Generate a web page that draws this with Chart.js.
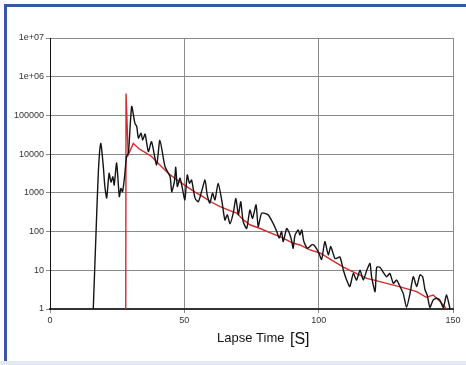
<!DOCTYPE html>
<html>
<head>
<meta charset="utf-8">
<script src="https://cdn.jsdelivr.net/npm/chart.js@4"></script>
<style>
  html, body { margin: 0; padding: 0; background: #fff; }
  #wrap { position: relative; width: 466px; height: 365px; overflow: hidden; }
  #frame { position: absolute; left: 4px; top: 4px; width: 480px; height: 356px;
           border-left: 3px solid #3658a5; border-top: 3px solid #3658a5; }
  #foot { position: absolute; left: 0; top: 361px; width: 466px; height: 4px; background: #e4eaf5; }
  canvas { position: absolute; left: 0; top: 0; }
</style>
</head>
<body>
<div id="wrap">
  <div id="frame"></div>
  <div id="foot"></div>
  <canvas id="chart" width="466" height="365"></canvas>
</div>
<script>
// time axis (seconds) and amplitudes
const blackX = [16.1, 17.1, 18.0, 18.9, 19.8, 20.4, 21.1, 22.0, 22.7, 23.4, 23.9, 24.8, 25.8, 26.4, 27.0, 27.7,
  28.5, 29.2, 30.4, 31.6, 32.3, 32.9, 33.9, 34.5, 35.4, 36.6, 37.8, 39.7, 40.9, 42.8, 44.7, 45.3, 46.3, 46.8,
  47.4, 48.4, 49.4, 50.2, 51.1, 51.9, 52.7, 54.0, 55.2, 56.4, 57.7, 58.5, 59.5, 60.5, 61.4, 62.6, 63.9, 65.1,
  66.0, 67.0, 68.2, 69.2, 70.1, 71.0, 71.9, 73.2, 74.4, 75.4, 76.7, 77.5, 78.8, 81.2, 83.1, 84.4, 85.3, 86.2,
  86.8, 88.1, 89.1, 89.9, 90.5, 91.2, 92.4, 93.0, 93.7, 94.5, 95.8, 97.4, 98.2, 99.9, 101.1, 102.3, 103.6,
  104.5, 106.1, 107.9, 109.2, 110.4, 111.6, 112.9, 114.1, 115.4, 116.6, 117.9, 119.1, 119.7, 121.0, 121.6,
  122.8, 124.0, 125.3, 126.5, 127.8, 129.0, 130.3, 131.5, 132.7, 134.0, 135.2, 136.5, 137.7, 138.7, 139.6,
  140.4, 141.4, 142.6, 143.9, 145.1, 146.4, 147.6, 148.9];
const blackY = [1, 80, 3500, 19000, 5200, 1500, 740, 3200, 1900, 2600, 1600, 5900, 800, 1300, 1070, 2400,
  8600, 10700, 170000, 63000, 51000, 26000, 35000, 23000, 33000, 11600, 21000, 5200, 23000, 4800, 2600, 1070, 1950, 4600,
  1450, 2400, 1170, 660, 2900, 1780, 2140, 720, 590, 1070, 2140, 890, 540, 980, 660, 1780, 660, 200,
  270, 160, 300, 720, 270, 590, 180, 120, 360, 220, 490, 135, 300, 270, 160, 100, 68, 100,
  55, 120, 91, 60, 37, 81, 110, 81, 110, 55, 37, 45, 45, 30, 19, 55, 25,
  41, 20, 22, 10, 5.6, 3.8, 8.3, 5.6, 10, 5.6, 10, 15, 6.8, 2.8, 12,
  12, 9, 6.8, 8.3, 4.6, 5.6, 3.8, 2.5, 1.1, 2.5, 6.8, 3.8, 7.6, 6.8, 3.1,
  2.3, 1.1, 1.7, 1.9, 1.7, 1.1, 2.3, 1];

const redX = [28.2, 28.3, 29.1, 31.0, 33.0, 35.5, 37.8, 41.0, 44.0, 47.5, 50.9, 54.0, 57.0, 60.0, 63.3, 66.5,
  69.5, 72.0, 74.4, 78.2, 82.5, 86.8, 90.0, 93.0, 96.5, 100.5, 105.0, 109.2, 113.0, 117.9, 121.0, 125.3,
  130.0, 136.5, 140.0, 142.6, 145.0, 147.6];
const redY = [1, 370000, 9500, 19000, 14000, 11000, 8700, 5200, 3200, 2100, 1450, 1050, 790, 580, 440, 360,
  300, 200, 150, 120, 90, 68, 52, 45, 34, 28, 18, 12, 9, 6.2, 5.5, 4.6,
  3.8, 2.8, 2.0, 2.3, 1.6, 1];

const xTicks = [0, 50, 100, 150];
const yTicks = [1, 10, 100, 1000, 10000, 100000, 1000000, 10000000];

function toPoints(xs, ys) {
  return xs.map((x, i) => ({ x: x, y: ys[i] }));
}

function yLabel(v) {
  if (v >= 1000000) return "1e+0" + Math.round(Math.log10(v));
  return String(v);
}

const axisTitle = {
  id: "axisTitle",
  afterDraw(chart) {
    const ctx = chart.ctx;
    ctx.save();
    ctx.fillStyle = "#111";
    ctx.textBaseline = "alphabetic";
    ctx.textAlign = "left";
    ctx.font = "13px 'Liberation Sans', Arial, sans-serif";
    ctx.fillText("Lapse Time", 217, 342);
    ctx.font = "16px 'Liberation Sans', Arial, sans-serif";
    ctx.fillText("[S]", 290, 344);
    ctx.restore();
  }
};

new Chart(document.getElementById("chart"), {
  type: "line",
  data: {
    datasets: [{
      label: "black",
      data: toPoints(blackX, blackY),
      borderColor: "#141414",
      borderWidth: 1.4,
      pointRadius: 0,
      tension: 0.2
    }, {
      label: "red",
      data: toPoints(redX, redY),
      borderColor: "#d42a2a",
      borderWidth: 1.4,
      pointRadius: 0,
      tension: 0
    }]
  },
  options: {
    responsive: false,
    animation: false,
    events: [],
    layout: { padding: { top: 38, right: 13, left: 0, bottom: 0 } },
    plugins: { legend: { display: false }, tooltip: { enabled: false } },
    scales: {
      x: {
        type: "linear",
        min: 0,
        max: 150,
        afterBuildTicks: (scale) => { scale.ticks = xTicks.map(v => ({ value: v })); },
        afterFit: (scale) => { scale.height = 56; },
        ticks: {
          color: "#333",
          padding: 2,
          maxRotation: 0,
          font: { size: 9, family: "'Liberation Sans', Arial, sans-serif" }
        },
        grid: { color: "#8a8a8a", lineWidth: 1, tickLength: 4 },
        border: { color: "#333", width: 2 }
      },
      y: {
        type: "logarithmic",
        min: 1,
        max: 10000000,
        afterBuildTicks: (scale) => { scale.ticks = yTicks.map(v => ({ value: v })); },
        afterFit: (scale) => { scale.width = 50; },
        ticks: {
          color: "#333",
          padding: 2,
          callback: (v) => yLabel(v),
          font: { size: 9, family: "'Liberation Sans', Arial, sans-serif" }
        },
        grid: { color: "#8a8a8a", lineWidth: 1, tickLength: 4 },
        border: { color: "#111", width: 1 }
      }
    }
  },
  plugins: [axisTitle]
});
</script>
</body>
</html>
